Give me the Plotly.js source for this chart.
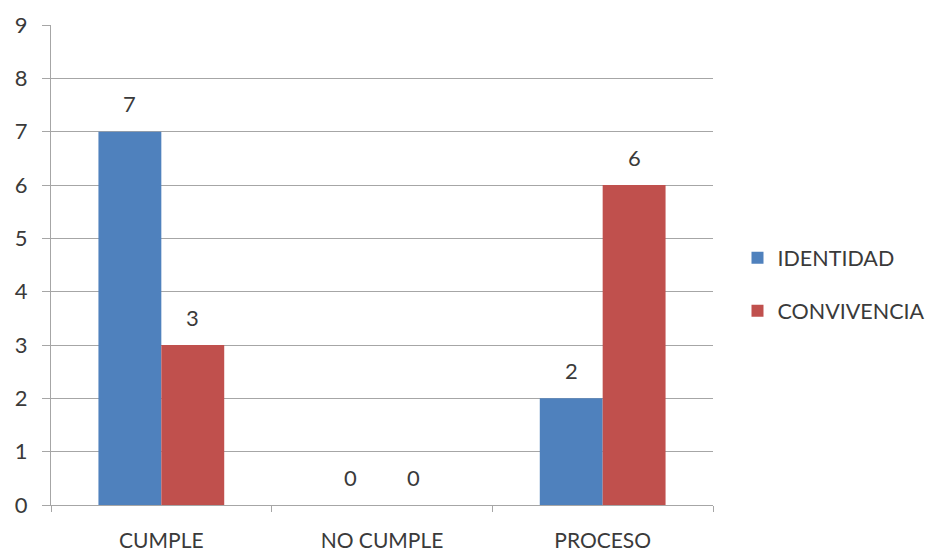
<!DOCTYPE html>
<html><head><meta charset="utf-8">
<script src="https://cdn.plot.ly/plotly-3.0.1.min.js"></script>
<style>html,body{margin:0;padding:0;background:#fff;}#chart{width:933px;height:551px;}</style>
</head><body><div id="chart"></div>
<script>
const categories = ["CUMPLE", "NO CUMPLE", "PROCESO"];
const identidad = [7, 0, 2];
const convivencia = [3, 0, 6];
const seriesNames = ["IDENTIDAD", "CONVIVENCIA"];
const yTicks = [0,1,2,3,4,5,6,7,8,9];

const colors = ["#4f81bd", "#c0504d"];
const font = "Lato, 'Open Sans', sans-serif";
const textColor = "#3a3a3a";

const traces = [identidad, convivencia].map((vals, i) => ({
  type: "bar", x: categories, y: vals, name: seriesNames[i],
  marker: {color: colors[i]}, legendgroup: "g" + i, hoverinfo: "none"
}));

const annotations = [];
[identidad, convivencia].forEach((vals, i) => {
  vals.forEach((v, j) => {
    annotations.push({
      x: categories[j], y: v, xref: "x", yref: "y", text: String(v),
      showarrow: false, xshift: i === 0 ? -31.5 : 31.5, yshift: 28,
      yanchor: "middle", font: {family: font, size: 22, color: textColor}
    });
  });
});

const layout = {
  width: 933, height: 551,
  margin: {l: 51, r: 220, t: 25, b: 46, autoexpand: false},
  paper_bgcolor: "#fff", plot_bgcolor: "#fff",
  barmode: "group", bargap: 0.43, bargroupgap: 0,
  xaxis: {
    type: "category", showgrid: false, showline: true, linecolor: "#a6a6a6", linewidth: 1,
    ticks: "outside", tickson: "boundaries", ticklen: 6, tickcolor: "#a6a6a6",
    ticklabelstandoff: 17, automargin: false,
    tickfont: {family: font, size: 21, color: textColor}
  },
  yaxis: {
    range: [0, 9], tickvals: yTicks, showgrid: true, gridcolor: "#a6a6a6", gridwidth: 1,
    showline: true, linecolor: "#a6a6a6", ticks: "outside", ticklen: 8, tickcolor: "#a6a6a6",
    ticklabelstandoff: 10, automargin: false,
    zeroline: false, tickfont: {family: font, size: 22, color: textColor}
  },
  legend: {
    x: 1.037, xanchor: "left", y: 0.46, yanchor: "middle",
    traceorder: "grouped", tracegroupgap: 22,
    font: {family: font, size: 21.5, color: textColor}
  },
  annotations: annotations,
  showlegend: true
};

Plotly.newPlot("chart", traces, layout, {displayModeBar: false, staticPlot: true});
</script></body></html>
